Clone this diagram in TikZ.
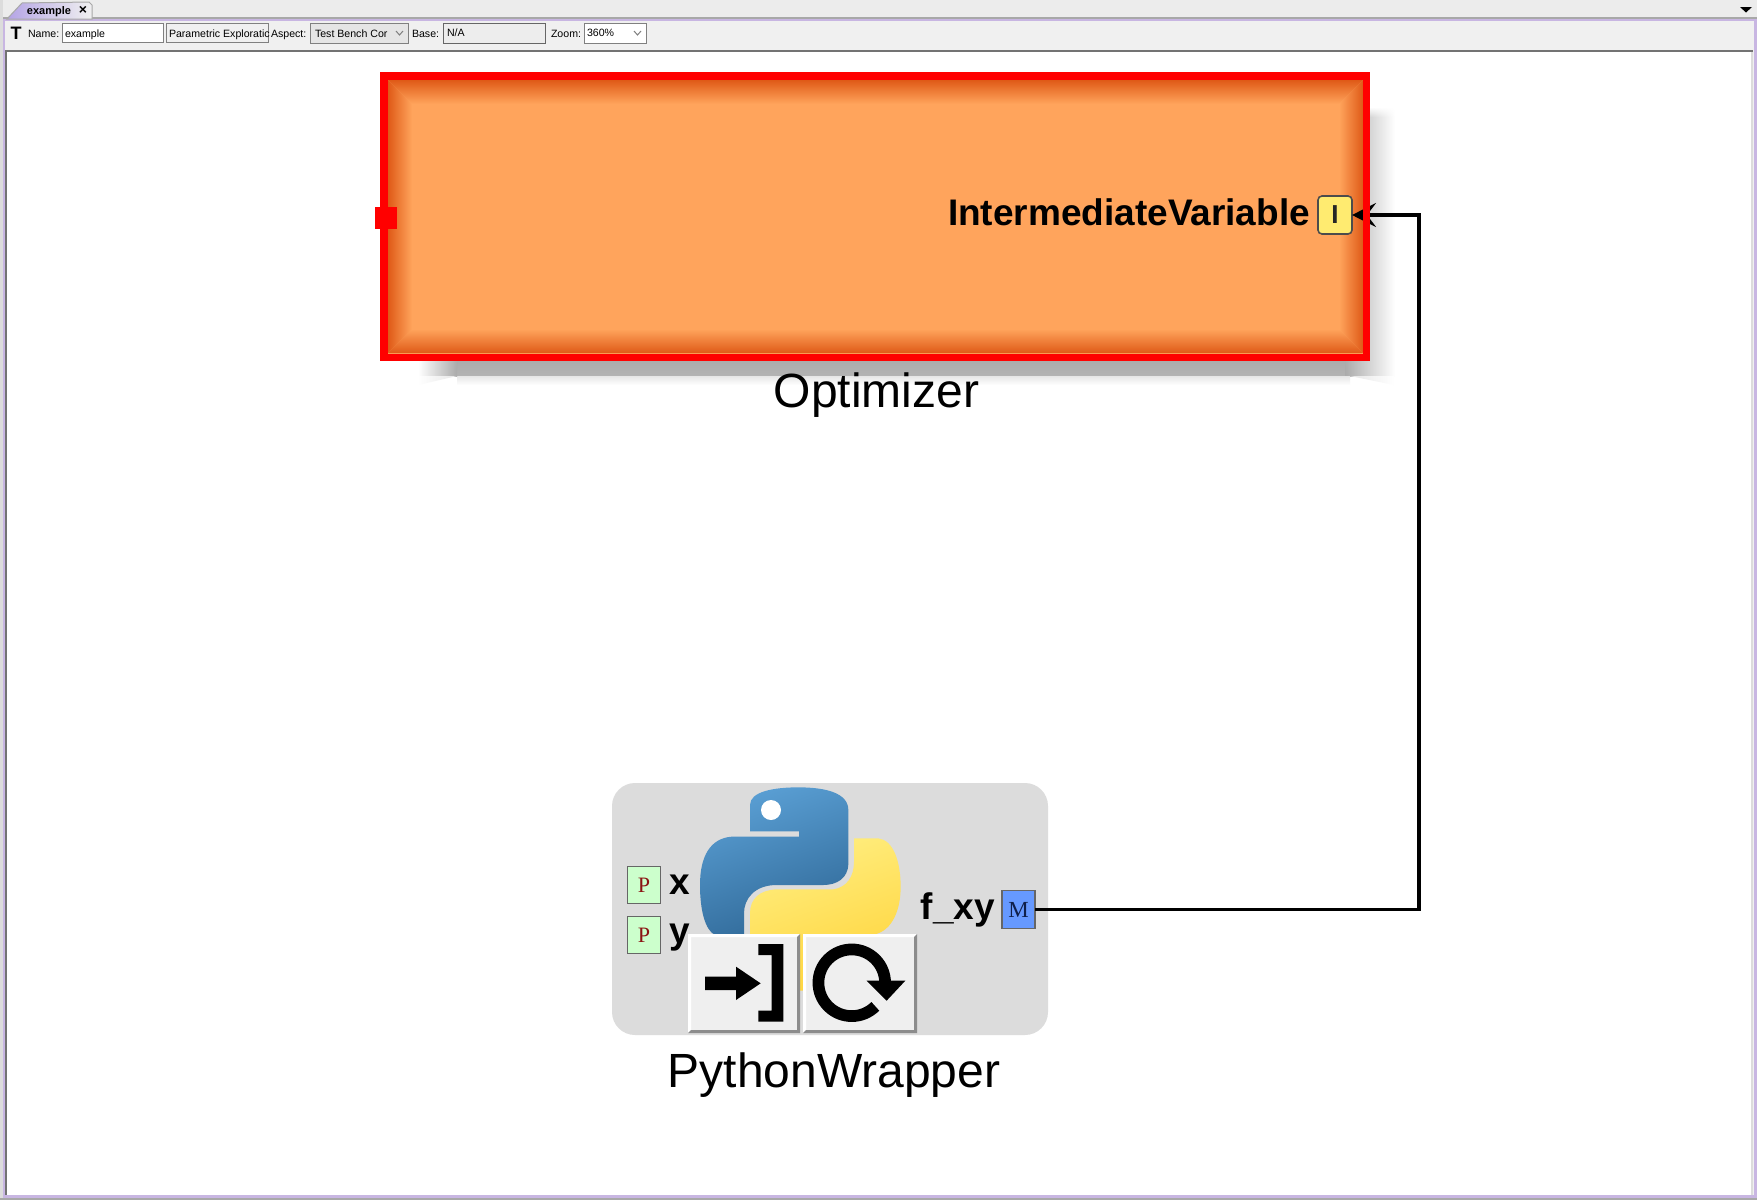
\documentclass[tikz,border=0pt]{standalone}
\usepackage{fontspec}
\setmainfont{Liberation Sans}
\newfontfamily\serifport{Liberation Serif}
\usetikzlibrary{arrows.meta,calc}
\definecolor{winbg}{HTML}{F0F0F0}
\definecolor{tabtop}{HTML}{ECECEC}
\definecolor{framepurple}{HTML}{C8B6E2}
\definecolor{edgegray}{HTML}{A8A8A8}
\definecolor{bevdark}{HTML}{DF5A17}
\definecolor{bevlight}{HTML}{FFA45C}
\definecolor{shad}{HTML}{ABABAB}
\definecolor{shadlow}{HTML}{E6E6E6}
\definecolor{pygray}{HTML}{DCDCDC}
\definecolor{pyblueA}{HTML}{5A9FD4}
\definecolor{pyblueB}{HTML}{306998}
\definecolor{pyyelA}{HTML}{FFEE80}
\definecolor{pyyelB}{HTML}{FFD43B}
\definecolor{btnface}{HTML}{EFEFEF}
\definecolor{btnshadow}{HTML}{8C8C8C}
\definecolor{iportfill}{HTML}{FFEB70}
\definecolor{mportfill}{HTML}{6699FF}
\definecolor{pportfill}{HTML}{CCFFCC}
\definecolor{pporttext}{HTML}{8B1414}
\definecolor{mporttext}{HTML}{10204A}
\tikzset{
  toollabel/.style={inner sep=0pt,outer sep=0pt,font=\fontsize{10.6}{11}\selectfont,anchor=base west,text=black},
  fieldbox/.style={draw=#1,line width=1pt,inner sep=0pt,outer sep=0pt},
  canvaslabel/.style={inner sep=0pt,outer sep=0pt,font=\fontsize{48}{48}\selectfont,anchor=base},
  portlabel/.style={inner sep=0pt,outer sep=0pt,font=\fontsize{37}{37}\selectfont\bfseries},
  portbox/.style={draw=#1,line width=1.6pt,inner sep=0pt,outer sep=0pt,minimum width=33pt,minimum height=37pt},
  wire/.style={draw=black,line width=3.2pt,line join=miter},
  btnbox/.style={fill=btnface,inner sep=0pt,outer sep=0pt,minimum height=99pt},
}
\begin{document}
\begin{tikzpicture}[x=1pt,y=-1pt]
\useasboundingbox (0,0) rectangle (1757,1200);
% window chrome
\fill[winbg] (0,0) rectangle (1757,1200);
\fill[tabtop] (0,0) rectangle (1757,18);
\fill[edgegray] (0,17) rectangle (1757,19);
\fill[pygray] (0,0) rectangle (3,1200);
\fill[framepurple] (3,19) rectangle (5,1200);
\fill[framepurple] (3,19) rectangle (1757,21);
\fill[framepurple] (1754,19) rectangle (1757,1198);
\fill[framepurple] (3,1195) rectangle (1757,1198);
\fill[edgegray] (0,1198) rectangle (1757,1200);
\fill[white] (6,51) rectangle (1753,1195);
\fill[gray!90!black] (5,50) rectangle (1753,52);
\fill[gray!90!black] (5,50) rectangle (7,1195);
\fill[pygray] (1751,52) rectangle (1753,1195);
% tab
\shade[left color=framepurple!90!blue,right color=winbg,draw=edgegray,line width=1pt]
  (7,19) -- (22,3) -- (89,2) -- (92,5) -- (92,19) -- cycle;
\node[toollabel,font=\fontsize{11}{11}\selectfont\bfseries] (tabname) at (27,14) {example};
\node[inner sep=0pt,font=\fontsize{14}{14}\selectfont\bfseries] (tabclose) at (83,10) {×};
\node[inner sep=0pt,font=\fontsize{18}{18}\selectfont\bfseries,text=black] (ticon) at (16,33) {T};
\node[toollabel] (lname) at (28,37) {Name:};
\node[fieldbox=gray,fill=white,minimum width=101pt,minimum height=19pt,anchor=north west] (fname) at (62,23) {};
\node[toollabel] (vname) at (65,37) {example};
\node[fieldbox=gray,fill=winbg,minimum width=102pt,minimum height=19pt,anchor=north west] (fkind) at (166,23) {};
\node[toollabel] (vkind) at (169,37) {Parametric Exploratic};
\node[toollabel] (laspect) at (271,37) {Aspect:};
\node[fieldbox=gray,fill=black!10,minimum width=98pt,minimum height=20pt,anchor=north west] (faspect) at (310,23) {};
\node[toollabel] (vaspect) at (315,37) {Test Bench Cor};
\draw[gray,line width=1pt] (396,31) -- (399.5,35) -- (403,31);
\node[toollabel] (lbase) at (412,37) {Base:};
\node[fieldbox=black!60,fill=black!7,minimum width=102pt,minimum height=20pt,anchor=north west] (fbase) at (443,23) {};
\node[toollabel] (vbase) at (447,36) {N/A};
\node[toollabel] (lzoom) at (551,37) {Zoom:};
\node[fieldbox=gray,fill=white,minimum width=62pt,minimum height=20pt,anchor=north west] (fzoom) at (584,23) {};
\node[toollabel] (vzoom) at (587,36) {360\%};
\draw[gray,line width=1pt] (634,31) -- (637.5,35) -- (641,31);
\fill[black] (1740,7) -- (1752,7) -- (1746,12.5) -- cycle;
% Optimizer shadow
\foreach \i in {0,...,9}{
  \pgfmathtruncatemacro{\p}{(\i+1)*10}
  \shade[left color=shad!\p!white,right color=white] (1345,108+\i) rectangle (1395,110+\i);
}
\shade[left color=shad,right color=white] (1345,118) rectangle (1395,376);
\shade[top color=shad,bottom color=shad!90!white] (457,361) rectangle (1345,376);
\shade[top color=shadlow,bottom color=white] (457,376) rectangle (1350,385);
\shade[left color=shadlow,right color=white] (1350,376) -- (1394,376) -- (1394,385) -- cycle;
\shade[left color=white,right color=shad] (418,361) rectangle (457,376);
\shade[left color=white,right color=shadlow] (418,385) -- (418,376) -- (457,376) -- cycle;
% Optimizer body
\node[fill=bevlight,inner sep=0pt,outer sep=0pt,minimum width=983pt,minimum height=281pt] (optimizer) at (875.5,216.5) {};
\shade[top color=bevdark,bottom color=bevlight] (388,80) -- (1363,80) -- (1339,104) -- (412,104) -- cycle;
\shade[bottom color=bevdark,top color=bevlight] (412,329) -- (1339,329) -- (1363,353) -- (388,353) -- cycle;
\shade[left color=bevdark,right color=bevlight] (388,80) -- (412,104) -- (412,329) -- (388,353) -- cycle;
\shade[right color=bevdark,left color=bevlight] (1363,80) -- (1339,104) -- (1339,329) -- (1363,353) -- cycle;
\node[portlabel,anchor=base east] (ivlabel) at (1310,225) {IntermediateVariable};
\node[portbox=black!70,fill=iportfill,rounded corners=4pt,minimum width=34pt,minimum height=38pt] (iport) at (1335,215) {};
\node[inner sep=0pt,font=\fontsize{26}{26}\selectfont\bfseries,text=black!85] (iportl) at (iport.center) {I};
\node[canvaslabel] (optname) at (876.5,407) {Optimizer};
% PythonWrapper
\node[fill=pygray,rounded corners=23pt,inner sep=0pt,outer sep=0pt,minimum width=436pt,minimum height=252pt] (python) at (830,909) {};
\begin{scope}[shift={(600,770)},x=0.33333pt,y=-0.33333pt]
  \shade[left color=pyyelA,right color=pyyelB,shading angle=20]
    (762,205) -- (835,205) .. controls (880,210) and (902,275) .. (902,350)
    .. controls (902,430) and (870,492) .. (810,495) -- (750,495) -- (750,600)
    .. controls (750,640) and (650,662) .. (605,662) -- (450,662) -- (450,430)
    .. controls (450,385) and (480,360) .. (530,358) -- (700,358)
    .. controls (740,352) and (762,320) .. (762,275) -- cycle;
  \shade[left color=pyblueA,right color=pyblueB,shading angle=20]
    (450,184) -- (450,105) .. controls (450,65) and (520,52) .. (595,52)
    .. controls (680,52) and (745,70) .. (745,120) -- (745,280)
    .. controls (745,325) and (710,345) .. (670,345) -- (530,345)
    .. controls (465,345) and (432,385) .. (432,430) -- (432,495) -- (345,495)
    .. controls (315,480) and (300,420) .. (300,345)
    .. controls (300,260) and (330,205) .. (395,200) -- (597,200) -- (597,184) -- cycle;
  \fill[white] (513,120) circle (30);
\end{scope}
% buttons
\node[btnbox,minimum width=112pt,anchor=north west] (btnin) at (688,934) {};
\node[btnbox,minimum width=114pt,anchor=north west] (btnre) at (803,934) {};
\foreach \b in {btnin,btnre}{
  \fill[white] (\b.north west) -- (\b.north east) -- ($(\b.north east)+(-3,3)$) -- ($(\b.north west)+(3,3)$) -- ($(\b.south west)+(3,-3)$) -- (\b.south west) -- cycle;
  \fill[btnshadow] (\b.south west) -- (\b.south east) -- (\b.north east) -- ($(\b.north east)+(-3,3)$) -- ($(\b.south east)+(-3,-3)$) -- ($(\b.south west)+(3,-3)$) -- cycle;
}
\begin{scope}[shift={(600,770)},x=0.33333pt,y=-0.33333pt]
  % step-into icon
  \fill[black] (315,620) -- (408,620) -- (408,590) -- (482,640) -- (408,690) -- (408,660) -- (315,660) -- cycle;
  \fill[black] (475,522) -- (550,522) -- (550,755) -- (475,755) -- (475,722) -- (515,722) -- (515,555) -- (475,555) -- cycle;
  % restart icon
  \draw[black,line width=11.7pt] (826,709) arc[start angle=45,end angle=360,radius=100];
  \fill[black] (800,632) -- (916,632) -- (860,692) -- cycle;
\end{scope}
% parameter and metric ports
\node[portbox=black!60,fill=pportfill,anchor=north west] (xport) at (627.5,866.5) {};
\node[inner sep=0pt,font=\serifport\fontsize{22}{22}\selectfont,text=pporttext] (xportl) at (xport.center) {P};
\node[portbox=black!60,fill=pportfill,anchor=north west] (yport) at (627.5,916.5) {};
\node[inner sep=0pt,font=\serifport\fontsize{22}{22}\selectfont,text=pporttext] (yportl) at (yport.center) {P};
\node[portlabel,anchor=base west] (xlabel) at (669,894) {x};
\node[portlabel,anchor=base west] (ylabel) at (669,943) {y};
\node[portbox=black!60,fill=mportfill,anchor=north west,minimum height=38pt] (mport) at (1002,890.5) {};
\node[inner sep=0pt,font=\serifport\fontsize{23}{23}\selectfont,text=mporttext] (mportl) at (mport.center) {M};
\node[portlabel,anchor=base east] (fxy) at (995,919) {f\_xy};
\node[canvaslabel] (pyname) at (834,1087) {PythonWrapper};
% connector
\coordinate (bend) at (1419,909.5);
\draw[wire,-{Stealth[length=24pt,width=24pt,inset=9pt]}] (mport.east) -- (bend) |- (iport.east);
% Optimizer border on top of the arrow
\draw[red,line width=7.5pt] (383.75,75.75) rectangle (1366.25,357.25);
\node[fill=red,inner sep=0pt,outer sep=0pt,minimum width=22pt,minimum height=22pt] (redport) at (385.5,218) {};
\end{tikzpicture}
\end{document}
